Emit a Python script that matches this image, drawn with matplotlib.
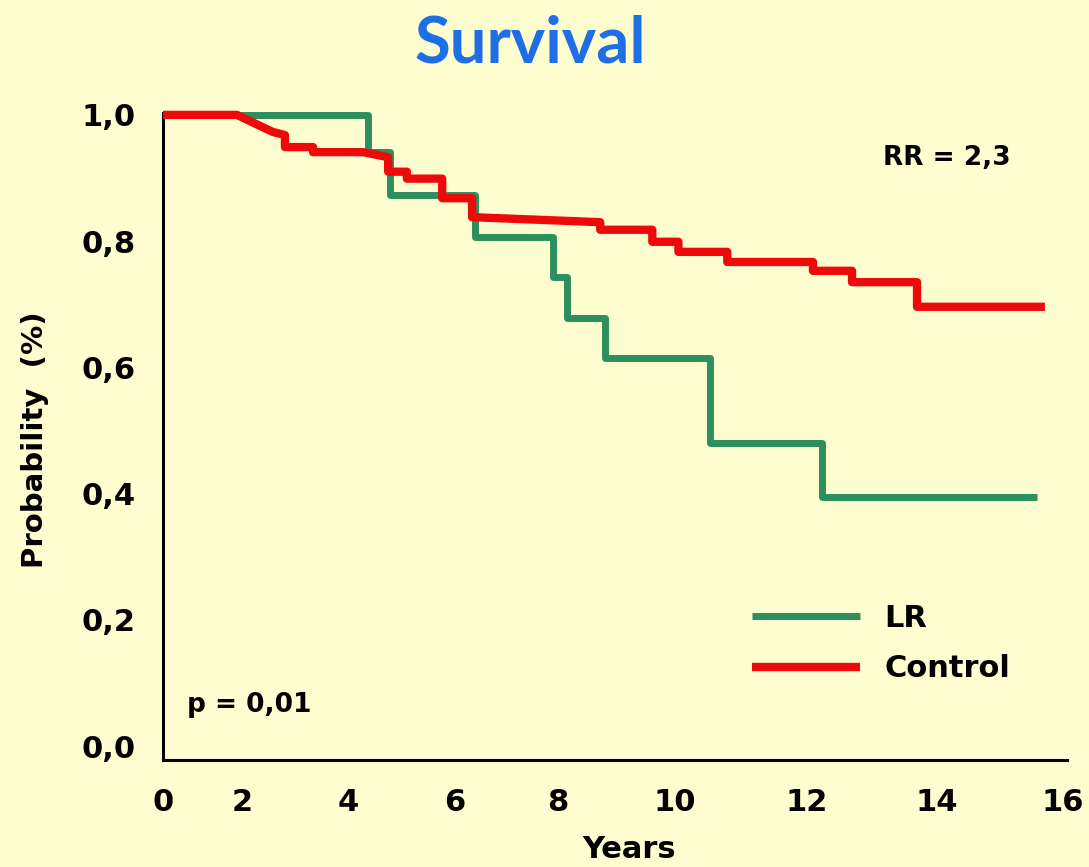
import numpy as np
import matplotlib
matplotlib.use("Agg")
import matplotlib.pyplot as plt

# survival data
lr_years = [0, 4.37, 4.79, 6.39, 7.90, 8.15, 8.80, 10.53, 12.23, 15.59]
lr_surv = [1.0, 0.941, 0.873, 0.807, 0.743, 0.678, 0.615, 0.480, 0.395, 0.395]

ctrl_years = [0, 1.87, 2.58, 2.81, 2.81, 3.34, 3.34, 4.28, 4.75, 4.75, 5.10, 5.10,
              5.76, 5.76, 6.33, 6.33, 8.72, 8.72, 9.61, 9.61, 10.05, 10.05, 10.79,
              10.79, 12.09, 12.09, 12.69, 12.69, 13.69, 13.69, 15.71]
ctrl_surv = [1.0, 1.0, 0.973, 0.968, 0.949, 0.949, 0.941, 0.941, 0.933, 0.910, 0.910, 0.899,
             0.899, 0.868, 0.868, 0.838, 0.830, 0.818, 0.818, 0.799, 0.799, 0.783, 0.783,
             0.767, 0.767, 0.753, 0.753, 0.735, 0.735, 0.696, 0.696]

x_ticks = [0, 2, 4, 6, 8, 10, 12, 14, 16]
y_ticks = [0.0, 0.2, 0.4, 0.6, 0.8, 1.0]
y_labels = ["0,0", "0,2", "0,4", "0,6", "0,8", "1,0"]

# the slide spaces its year labels unevenly, so map years the same way
tick_px = [163, 242, 348, 455, 558, 675, 807, 937, 1063]


def fwd(x):
    x = np.asarray(x, dtype=float)
    out = np.interp(x, x_ticks, tick_px)
    out = np.where(x > 16, tick_px[-1] + (x - 16) * 63.0, out)
    out = np.where(x < 0, tick_px[0] + x * 39.5, out)
    return out


def inv(p):
    p = np.asarray(p, dtype=float)
    out = np.interp(p, tick_px, x_ticks)
    out = np.where(p > tick_px[-1], 16 + (p - tick_px[-1]) / 63.0, out)
    out = np.where(p < tick_px[0], (p - tick_px[0]) / 39.5, out)
    return out


bg = "#FEFDD0"
green = "#2E8F5E"
red = "#EE0A0A"

fig = plt.figure(figsize=(10.89, 8.67), dpi=100, facecolor=bg)
ax = fig.add_axes([163 / 1089, 1 - 760 / 867, (1067 - 163) / 1089, (760 - 113) / 867])
ax.set_facecolor(bg)
ax.set_xscale("function", functions=(fwd, inv))

ax.plot(lr_years, lr_surv, drawstyle="steps-post", color=green, lw=5, label="LR",
        clip_on=False, solid_capstyle="butt", zorder=3)
ax.plot(ctrl_years, ctrl_surv, color=red, lw=6, label="Control",
        clip_on=False, solid_capstyle="butt", zorder=4)

ax.set_xlim(0, 16.06)
ax.set_ylim(-0.022, 1.003)

for s in ["top", "right"]:
    ax.spines[s].set_visible(False)
for s in ["left", "bottom"]:
    ax.spines[s].set_linewidth(2.2)
    ax.spines[s].set_color("black")

ax.set_xticks(x_ticks, [str(t) for t in x_ticks])
ax.set_yticks(y_ticks, y_labels)
ax.minorticks_off()
ax.tick_params(axis="both", length=0, labelsize=22)
ax.tick_params(axis="x", pad=20)
ax.tick_params(axis="y", pad=20)
for lab in ax.get_xticklabels() + ax.get_yticklabels():
    lab.set_fontweight("heavy")

ax.set_xlabel("Years", fontsize=22, fontweight="heavy", va="center")
ax.xaxis.set_label_coords(0.5155, -0.138)
ax.set_ylabel("Probability  (%)", fontsize=21, fontweight="heavy", va="center")
ax.yaxis.set_label_coords(-0.142, 0.495)

fig.text(530 / 1089, 1 - 44 / 867, "Survival", fontsize=47, fontweight="bold",
         color="#1E6EE6", family="Lato", ha="center", va="center")

ax.text(0.797, 0.930, "RR = 2,3", transform=ax.transAxes, fontsize=19,
        fontweight="heavy", va="center", ha="left")
ax.text(0.027, 0.085, "p = 0,01", transform=ax.transAxes, fontsize=19,
        fontweight="heavy", va="center", ha="left")

leg = ax.legend(loc="upper left", bbox_to_anchor=(0.651, 0.241), frameon=False,
                fontsize=22, handlelength=3.55, handletextpad=0.8, labelspacing=0.7,
                borderpad=0, borderaxespad=0)
for t in leg.get_texts():
    t.set_fontweight("heavy")

fig.savefig("out.png", dpi=100, facecolor=bg)
